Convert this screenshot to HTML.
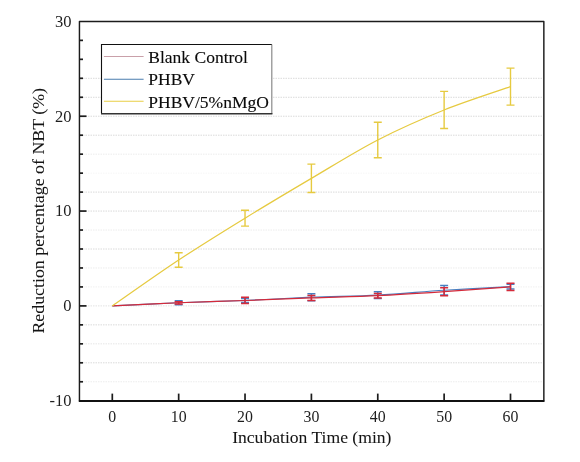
<!DOCTYPE html>
<html><head><meta charset="utf-8"><style>
html,body{margin:0;padding:0;background:#fff;overflow:hidden;}
svg{display:block;filter:blur(0.3px);}
text{font-family:"Liberation Serif",serif;fill:#0a0a0a;stroke:#0a0a0a;stroke-width:0.12px;}
.tl{font-size:16.5px;fill:#1e1e1e;stroke:none;}
.ti{font-size:17.9px;fill:#141414;stroke:#141414;stroke-width:0.05px;}
.lg{font-size:17.5px;}
.g{stroke:#e4e4e4;stroke-width:1;stroke-dasharray:1.5 1;}
.t{stroke:#1c1c1c;stroke-width:1.7;}
</style></head><body>
<svg width="580" height="462" viewBox="0 0 580 462">
<rect width="580" height="462" fill="#fff"/>
<line x1="80.5" y1="78.30" x2="542.9" y2="78.30" class="g" style="stroke:#dadada"/>
<line x1="80.5" y1="97.27" x2="542.9" y2="97.27" class="g" style="stroke:#dadada"/>
<line x1="80.5" y1="116.23" x2="542.9" y2="116.23" class="g" style="stroke:#dadada"/>
<line x1="80.5" y1="135.20" x2="542.9" y2="135.20" class="g" style="stroke:#dadada"/>
<line x1="80.5" y1="154.17" x2="542.9" y2="154.17" class="g" style="stroke:#ececec"/>
<line x1="80.5" y1="173.13" x2="542.9" y2="173.13" class="g" style="stroke:#f6f6f6"/>
<line x1="80.5" y1="192.10" x2="542.9" y2="192.10" class="g" style="stroke:#dadada"/>
<line x1="80.5" y1="211.07" x2="542.9" y2="211.07" class="g" style="stroke:#dadada"/>
<line x1="80.5" y1="230.03" x2="542.9" y2="230.03" class="g" style="stroke:#ececec"/>
<line x1="80.5" y1="249.00" x2="542.9" y2="249.00" class="g" style="stroke:#dadada"/>
<line x1="80.5" y1="267.97" x2="542.9" y2="267.97" class="g" style="stroke:#ececec"/>
<line x1="80.5" y1="286.93" x2="542.9" y2="286.93" class="g" style="stroke:#f0f0f0"/>
<line x1="80.5" y1="305.90" x2="542.9" y2="305.90" class="g" style="stroke:#e2e2e2"/>
<line x1="80.5" y1="324.87" x2="542.9" y2="324.87" class="g" style="stroke:#dadada"/>
<line x1="80.5" y1="343.83" x2="542.9" y2="343.83" class="g" style="stroke:#e6e6e6"/>
<line x1="80.5" y1="362.80" x2="542.9" y2="362.80" class="g" style="stroke:#dadada"/>
<line x1="80.5" y1="381.77" x2="542.9" y2="381.77" class="g" style="stroke:#ececec"/>
<line x1="79.5" y1="381.77" x2="83.0" y2="381.77" class="t"/>
<line x1="79.5" y1="362.80" x2="83.0" y2="362.80" class="t"/>
<line x1="79.5" y1="343.83" x2="83.0" y2="343.83" class="t"/>
<line x1="79.5" y1="324.87" x2="83.0" y2="324.87" class="t"/>
<line x1="79.5" y1="305.90" x2="86.5" y2="305.90" class="t"/>
<line x1="79.5" y1="286.93" x2="83.0" y2="286.93" class="t"/>
<line x1="79.5" y1="267.97" x2="83.0" y2="267.97" class="t"/>
<line x1="79.5" y1="249.00" x2="83.0" y2="249.00" class="t"/>
<line x1="79.5" y1="230.03" x2="83.0" y2="230.03" class="t"/>
<line x1="79.5" y1="211.07" x2="86.5" y2="211.07" class="t"/>
<line x1="79.5" y1="192.10" x2="83.0" y2="192.10" class="t"/>
<line x1="79.5" y1="173.13" x2="83.0" y2="173.13" class="t"/>
<line x1="79.5" y1="154.17" x2="83.0" y2="154.17" class="t"/>
<line x1="79.5" y1="135.20" x2="83.0" y2="135.20" class="t"/>
<line x1="79.5" y1="116.23" x2="86.5" y2="116.23" class="t"/>
<line x1="79.5" y1="97.27" x2="83.0" y2="97.27" class="t"/>
<line x1="79.5" y1="78.30" x2="83.0" y2="78.30" class="t"/>
<line x1="79.5" y1="59.33" x2="83.0" y2="59.33" class="t"/>
<line x1="79.5" y1="40.37" x2="83.0" y2="40.37" class="t"/>
<line x1="112.30" y1="400.6" x2="112.30" y2="393.6" class="t"/>
<line x1="178.67" y1="400.6" x2="178.67" y2="393.6" class="t"/>
<line x1="245.03" y1="400.6" x2="245.03" y2="393.6" class="t"/>
<line x1="311.40" y1="400.6" x2="311.40" y2="393.6" class="t"/>
<line x1="377.77" y1="400.6" x2="377.77" y2="393.6" class="t"/>
<line x1="444.13" y1="400.6" x2="444.13" y2="393.6" class="t"/>
<line x1="510.50" y1="400.6" x2="510.50" y2="393.6" class="t"/>
<path d="M79.45,400.60V21.50H543.85V400.60" fill="none" stroke="#1c1c1c" stroke-width="1.45" stroke-linejoin="round"/>
<line x1="78.75" y1="400.9" x2="544.55" y2="400.9" stroke="#111" stroke-width="2"/>
<path d="M178.67,300.68V304.86M174.67,300.68H182.67M174.67,304.86H182.67" stroke="#4A7FC0" stroke-width="1.5" fill="none"/>
<path d="M245.03,298.60V302.39M241.03,298.60H249.03M241.03,302.39H249.03" stroke="#4A7FC0" stroke-width="1.5" fill="none"/>
<path d="M311.40,293.67V300.68M307.40,293.67H315.40M307.40,300.68H315.40" stroke="#4A7FC0" stroke-width="1.5" fill="none"/>
<path d="M377.77,291.67V298.50M373.77,291.67H381.77M373.77,298.50H381.77" stroke="#4A7FC0" stroke-width="1.5" fill="none"/>
<path d="M444.13,285.51V294.99M440.13,285.51H448.13M440.13,294.99H448.13" stroke="#4A7FC0" stroke-width="1.5" fill="none"/>
<path d="M510.50,284.28V289.02M506.50,284.28H514.50M506.50,289.02H514.50" stroke="#4A7FC0" stroke-width="1.5" fill="none"/>
<path d="M112.30,305.90 C123.36,305.38 156.54,303.67 178.67,302.77 C200.79,301.87 222.91,301.43 245.03,300.49 C267.16,299.56 289.28,298.08 311.40,297.18 C333.52,296.27 355.64,296.24 377.77,295.09 C399.89,293.94 422.01,291.66 444.13,290.25 C466.26,288.85 499.44,287.25 510.50,286.65" stroke="#4A7FC0" stroke-width="1.2" fill="none"/>
<path d="M178.67,301.63V303.91M174.67,301.63H182.67M174.67,303.91H182.67" stroke="#D42A3A" stroke-width="1.5" fill="none"/>
<path d="M245.03,297.36V303.62M241.03,297.36H249.03M241.03,303.62H249.03" stroke="#D42A3A" stroke-width="1.5" fill="none"/>
<path d="M311.40,295.47V300.40M307.40,295.47H315.40M307.40,300.40H315.40" stroke="#D42A3A" stroke-width="1.5" fill="none"/>
<path d="M377.77,293.38V297.93M373.77,293.38H381.77M373.77,297.93H381.77" stroke="#D42A3A" stroke-width="1.5" fill="none"/>
<path d="M444.13,287.69V295.66M440.13,287.69H448.13M440.13,295.66H448.13" stroke="#D42A3A" stroke-width="1.5" fill="none"/>
<path d="M510.50,283.33V290.54M506.50,283.33H514.50M506.50,290.54H514.50" stroke="#D42A3A" stroke-width="1.5" fill="none"/>
<path d="M112.30,305.90 C123.36,305.38 156.54,303.67 178.67,302.77 C200.79,301.87 222.91,301.30 245.03,300.49 C267.16,299.69 289.28,298.74 311.40,297.93 C333.52,297.13 355.64,296.70 377.77,295.66 C399.89,294.61 422.01,293.13 444.13,291.67 C466.26,290.22 499.44,287.72 510.50,286.93" stroke="#D42A3A" stroke-width="1.2" fill="none"/>
<path d="M178.67,252.70V267.30M174.67,252.70H182.67M174.67,267.30H182.67" stroke="#E6CA40" stroke-width="1.4" fill="none"/>
<path d="M245.03,210.21V226.15M241.03,210.21H249.03M241.03,226.15H249.03" stroke="#E6CA40" stroke-width="1.4" fill="none"/>
<path d="M311.40,164.12V192.57M307.40,164.12H315.40M307.40,192.57H315.40" stroke="#E6CA40" stroke-width="1.4" fill="none"/>
<path d="M377.77,122.21V157.68M373.77,122.21H381.77M373.77,157.68H381.77" stroke="#E6CA40" stroke-width="1.4" fill="none"/>
<path d="M444.13,91.39V128.56M440.13,91.39H448.13M440.13,128.56H448.13" stroke="#E6CA40" stroke-width="1.4" fill="none"/>
<path d="M510.50,68.15V105.14M506.50,68.15H514.50M506.50,105.14H514.50" stroke="#E6CA40" stroke-width="1.4" fill="none"/>
<path d="M112.30,305.90 C123.36,298.25 156.54,274.62 178.67,260.00 C200.79,245.38 222.91,231.79 245.03,218.18 C267.16,204.57 289.28,191.39 311.40,178.35 C333.52,165.31 355.64,151.34 377.77,139.94 C399.89,128.55 422.01,118.86 444.13,109.97 C466.26,101.09 499.44,90.53 510.50,86.65" stroke="#E6CA40" stroke-width="1.25" fill="none"/>
<text transform="translate(71.6,406.03)" text-anchor="end" class="tl">-10</text>
<text transform="translate(71.6,311.20)" text-anchor="end" class="tl">0</text>
<text transform="translate(71.6,216.37)" text-anchor="end" class="tl">10</text>
<text transform="translate(71.6,121.53)" text-anchor="end" class="tl">20</text>
<text transform="translate(71.6,26.70)" text-anchor="end" class="tl">30</text>
<text transform="translate(112.30,421.7) scale(0.96,1)" text-anchor="middle" class="tl">0</text>
<text transform="translate(178.67,421.7) scale(0.96,1)" text-anchor="middle" class="tl">10</text>
<text transform="translate(245.03,421.7) scale(0.96,1)" text-anchor="middle" class="tl">20</text>
<text transform="translate(311.40,421.7) scale(0.96,1)" text-anchor="middle" class="tl">30</text>
<text transform="translate(377.77,421.7) scale(0.96,1)" text-anchor="middle" class="tl">40</text>
<text transform="translate(444.13,421.7) scale(0.96,1)" text-anchor="middle" class="tl">50</text>
<text transform="translate(510.50,421.7) scale(0.96,1)" text-anchor="middle" class="tl">60</text>
<text x="311.8" y="442.5" text-anchor="middle" class="ti" style="font-size:17.6px">Incubation Time (min)</text>
<text transform="translate(43.6,210.8) rotate(-90) scale(1.07,1)" x="0" y="0" text-anchor="middle" class="ti" style="font-size:16.7px">Reduction percentage of NBT (%)</text>
<rect x="101.5" y="44.5" width="170" height="69" fill="#fff"/>
<path d="M101.5,113.5V44.5H272" stroke="#111" stroke-width="1.1" fill="none"/>
<line x1="271.8" y1="44.5" x2="271.8" y2="114" stroke="#8a8a8a" stroke-width="1.2"/>
<line x1="101" y1="113.8" x2="272.4" y2="113.8" stroke="#333" stroke-width="1.5"/>
<line x1="103.9" y1="56.5" x2="143.6" y2="56.5" stroke="#C9A0A9" stroke-width="1.1"/>
<text x="148.3" y="62.7" class="lg">Blank Control</text>
<line x1="103.9" y1="79.2" x2="143.6" y2="79.2" stroke="#4A7CAE" stroke-width="1.1"/>
<text x="148.3" y="85.4" class="lg">PHBV</text>
<line x1="103.9" y1="101.3" x2="143.6" y2="101.3" stroke="#E8CE44" stroke-width="1.1"/>
<text x="148.3" y="107.5" class="lg">PHBV/5%nMgO</text>
</svg>
</body></html>
